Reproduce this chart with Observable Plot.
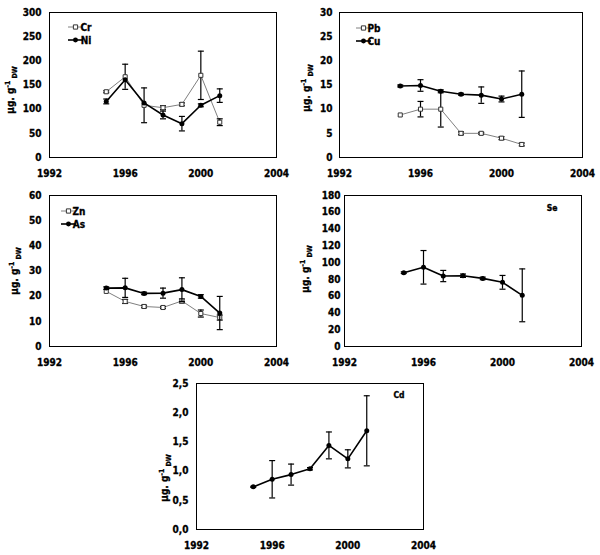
<!DOCTYPE html>
<html><head><meta charset="utf-8">
<script src="https://cdn.jsdelivr.net/npm/d3@7"></script>
<script src="https://cdn.jsdelivr.net/npm/@observablehq/plot@0.6"></script>
<style>
body{margin:0;background:#fff;}
#wrap{position:relative;width:600px;height:555px;overflow:hidden;background:#fff;}
#wrap svg{position:absolute;overflow:visible;}
#wrap svg text{stroke:black;stroke-width:0.3px;}
</style></head><body><div id="wrap"></div>
<script>
// ---- data ----
const years = [1995, 1996, 1997, 1998, 1999, 2000, 2001];
const xTicks = [1992, 1996, 2000, 2004];

const cr = [136, 167, 108, 103, 110, 170, 73];
const crErr = [2, 26, 36, 4, 3, 50, 7];
const ni = [116, 161, 113, 88, 70, 108, 128];
const niErr = [5, 0, 0, 8, 15, 3, 14];

const pb = [8.8, 10.0, 10.0, 5.0, 5.0, 4.0, 2.7];
const pbErr = [0, 1.6, 3.7, 0.3, 0.2, 0.3, 0.3];
const cu = [14.8, 14.9, 13.7, 13.1, 12.9, 12.1, 13.1];
const cuErr = [0.2, 1.2, 0.3, 0.2, 1.7, 0.6, 4.8];

const zn = [21.9, 17.9, 15.9, 15.5, 18.1, 13.1, 11.5];
const znErr = [0, 0.8, 0.5, 0.4, 0.8, 1.4, 1.0];
const as = [23.2, 23.3, 21.1, 21.2, 22.6, 19.9, 13.3];
const asErr = [0.5, 3.8, 0.5, 2.0, 4.7, 0.7, 6.6];

const se = [88, 94.4, 84, 84.4, 81.2, 76.5, 61];
const seErr = [1, 20, 6.7, 2, 1.5, 8.2, 31.5];

const cd = [0.73, 0.86, 0.94, 1.04, 1.44, 1.21, 1.69];
const cdErr = [0.01, 0.32, 0.18, 0.02, 0.23, 0.155, 0.6];

const yTicks1 = [0, 50, 100, 150, 200, 250, 300];
const yTicks2 = [0, 5, 10, 15, 20, 25, 30];
const yTicks3 = [0, 10, 20, 30, 40, 50, 60];
const yTicks4 = [0, 20, 40, 60, 80, 100, 120, 140, 160, 180];
const yTicks5 = [0, 0.5, 1.0, 1.5, 2.0, 2.5];

// ---- helpers ----
const FONT = '"DejaVu Sans Condensed", "DejaVu Sans", Verdana, sans-serif';
const rows = (vals, errs) => years.map((y, i) => ({year: y, v: vals[i], err: errs[i]}));
const cap = {draw(ctx, size) { const w = Math.sqrt(size / Math.PI); ctx.moveTo(-w, 0); ctx.lineTo(w, 0); }};

function seriesMarks(data, open) {
  const marks = [];
  marks.push(Plot.line(data, {x: "year", y: "v", stroke: open ? "#808080" : "black", strokeWidth: open ? 1 : 1.6}));
  const eb = data.filter(d => d.err > 0);
  marks.push(Plot.ruleX(eb, {x: "year", y1: d => d.v - d.err, y2: d => d.v + d.err, stroke: "black", strokeWidth: 1.2}));
  marks.push(Plot.dot(eb, {x: "year", y: d => d.v - d.err, symbol: cap, r: 3, stroke: "black", strokeWidth: 1.2, fill: "none"}));
  marks.push(Plot.dot(eb, {x: "year", y: d => d.v + d.err, symbol: cap, r: 3, stroke: "black", strokeWidth: 1.2, fill: "none"}));
  if (open) marks.push(Plot.dot(data, {x: "year", y: "v", symbol: "square", r: 2.3, stroke: "#333", strokeWidth: 1, fill: "white"}));
  else marks.push(Plot.dot(data, {x: "year", y: "v", symbol: "circle", r: 2.5, fill: "black", stroke: "none"}));
  return marks;
}

function panel(cfg) {
  const p = Plot.plot({
    width: cfg.w, height: cfg.h,
    marginLeft: cfg.m[0], marginRight: cfg.m[1], marginTop: cfg.m[2], marginBottom: cfg.m[3],
    style: {fontFamily: FONT, fontSize: "10px", fontWeight: "bold", color: "black", background: "transparent", fontStretch: "condensed"},
    x: {domain: [1992, 2004], ticks: xTicks, tickFormat: d => String(d), tickSize: 0, tickPadding: 12, label: null},
    y: {domain: [0, cfg.yMax], ticks: cfg.yTicks, tickFormat: cfg.yFormat || (d => String(d)), tickSize: 0, tickPadding: cfg.pad, label: null},
    marks: [
      Plot.frame({stroke: "black", strokeWidth: 1}),
      ...cfg.series.flatMap(s => seriesMarks(rows(s.vals, s.errs), s.open))
    ]
  });
  p.style.left = cfg.left + "px";
  p.style.top = cfg.top + "px";
  const svg = d3.select(p);
  // y-axis title
  const t = svg.append("text")
    .attr("transform", `translate(${cfg.title[0]},${cfg.title[1]}) rotate(-90)`)
    .attr("text-anchor", "middle").attr("fill", "black")
    .style("font-family", FONT).style("font-weight", "bold").style("font-size", "10px");
  t.append("tspan").text("µg. g");
  t.append("tspan").attr("font-size", "7px").attr("dy", "-4").text("-1");
  t.append("tspan").attr("font-size", "7px").attr("dy", "7").text(" DW");
  // legend
  if (cfg.legend) {
    cfg.legend.forEach((l, i) => {
      const y = cfg.legend.y0 + i * 13;
      const open = l.open;
      svg.append("line").attr("x1", cfg.legend.x0).attr("x2", cfg.legend.x0 + 15)
        .attr("y1", y).attr("y2", y)
        .attr("stroke", open ? "#808080" : "black").attr("stroke-width", open ? 1 : 1.6);
      svg.append("path").attr("transform", `translate(${cfg.legend.x0 + 7.5},${y})`)
        .attr("d", d3.symbol(open ? d3.symbolSquare : d3.symbolCircle, open ? 18 : 19)())
        .attr("fill", open ? "white" : "black").attr("stroke", open ? "#333" : "none");
      svg.append("text").attr("x", cfg.legend.x0 + 18).attr("y", y).attr("dy", "0.36em")
        .attr("fill", "black").style("font-family", FONT).style("font-weight", "bold").style("font-size", "10px")
        .text(l.name);
    });
  }
  if (cfg.tag) {
    svg.append("text").attr("x", cfg.tag[1]).attr("y", cfg.tag[2]).attr("dy", "0.36em")
      .attr("text-anchor", "middle").attr("fill", "black")
      .style("font-family", FONT).style("font-weight", "bold").style("font-size", "8.5px")
      .text(cfg.tag[0]);
  }
  document.getElementById("wrap").appendChild(p);
}

function legendList(items, x0, y0) { const a = items.slice(); a.x0 = x0; a.y0 = y0; return a; }

panel({left: 0, top: 0, w: 300, h: 180, m: [49, 24, 12, 23], yMax: 300, yTicks: yTicks1, pad: 8,
  series: [{vals: cr, errs: crErr, open: true}, {vals: ni, errs: niErr, open: false}],
  title: [14, 90], legend: legendList([{name: "Cr", open: true}, {name: "Ni", open: false}], 68, 27)});

panel({left: 300, top: 0, w: 300, h: 180, m: [39, 18, 12, 23], yMax: 30, yTicks: yTicks2, pad: 7,
  series: [{vals: pb, errs: pbErr, open: true}, {vals: cu, errs: cuErr, open: false}],
  title: [10, 88], legend: legendList([{name: "Pb", open: true}, {name: "Cu", open: false}], 56, 28)});

panel({left: 0, top: 180, w: 300, h: 190, m: [49, 24, 15, 24], yMax: 60, yTicks: yTicks3, pad: 8,
  series: [{vals: zn, errs: znErr, open: true}, {vals: as, errs: asErr, open: false}],
  title: [18, 91], legend: legendList([{name: "Zn", open: true}, {name: "As", open: false}], 61, 31)});

panel({left: 300, top: 180, w: 300, h: 190, m: [44, 19, 15, 24], yMax: 180, yTicks: yTicks4, pad: 4,
  series: [{vals: se, errs: seErr, open: false}],
  title: [9, 89], tag: ["Se", 252, 28]});

panel({left: 150, top: 370, w: 300, h: 185, m: [46, 27, 13, 26], yMax: 2.5, yTicks: yTicks5, pad: 8,
  yFormat: d => d3.format(".1f")(d).replace(".", ","),
  series: [{vals: cd, errs: cdErr, open: false}],
  title: [18, 108], tag: ["Cd", 249, 25]});
</script>
</body></html>
